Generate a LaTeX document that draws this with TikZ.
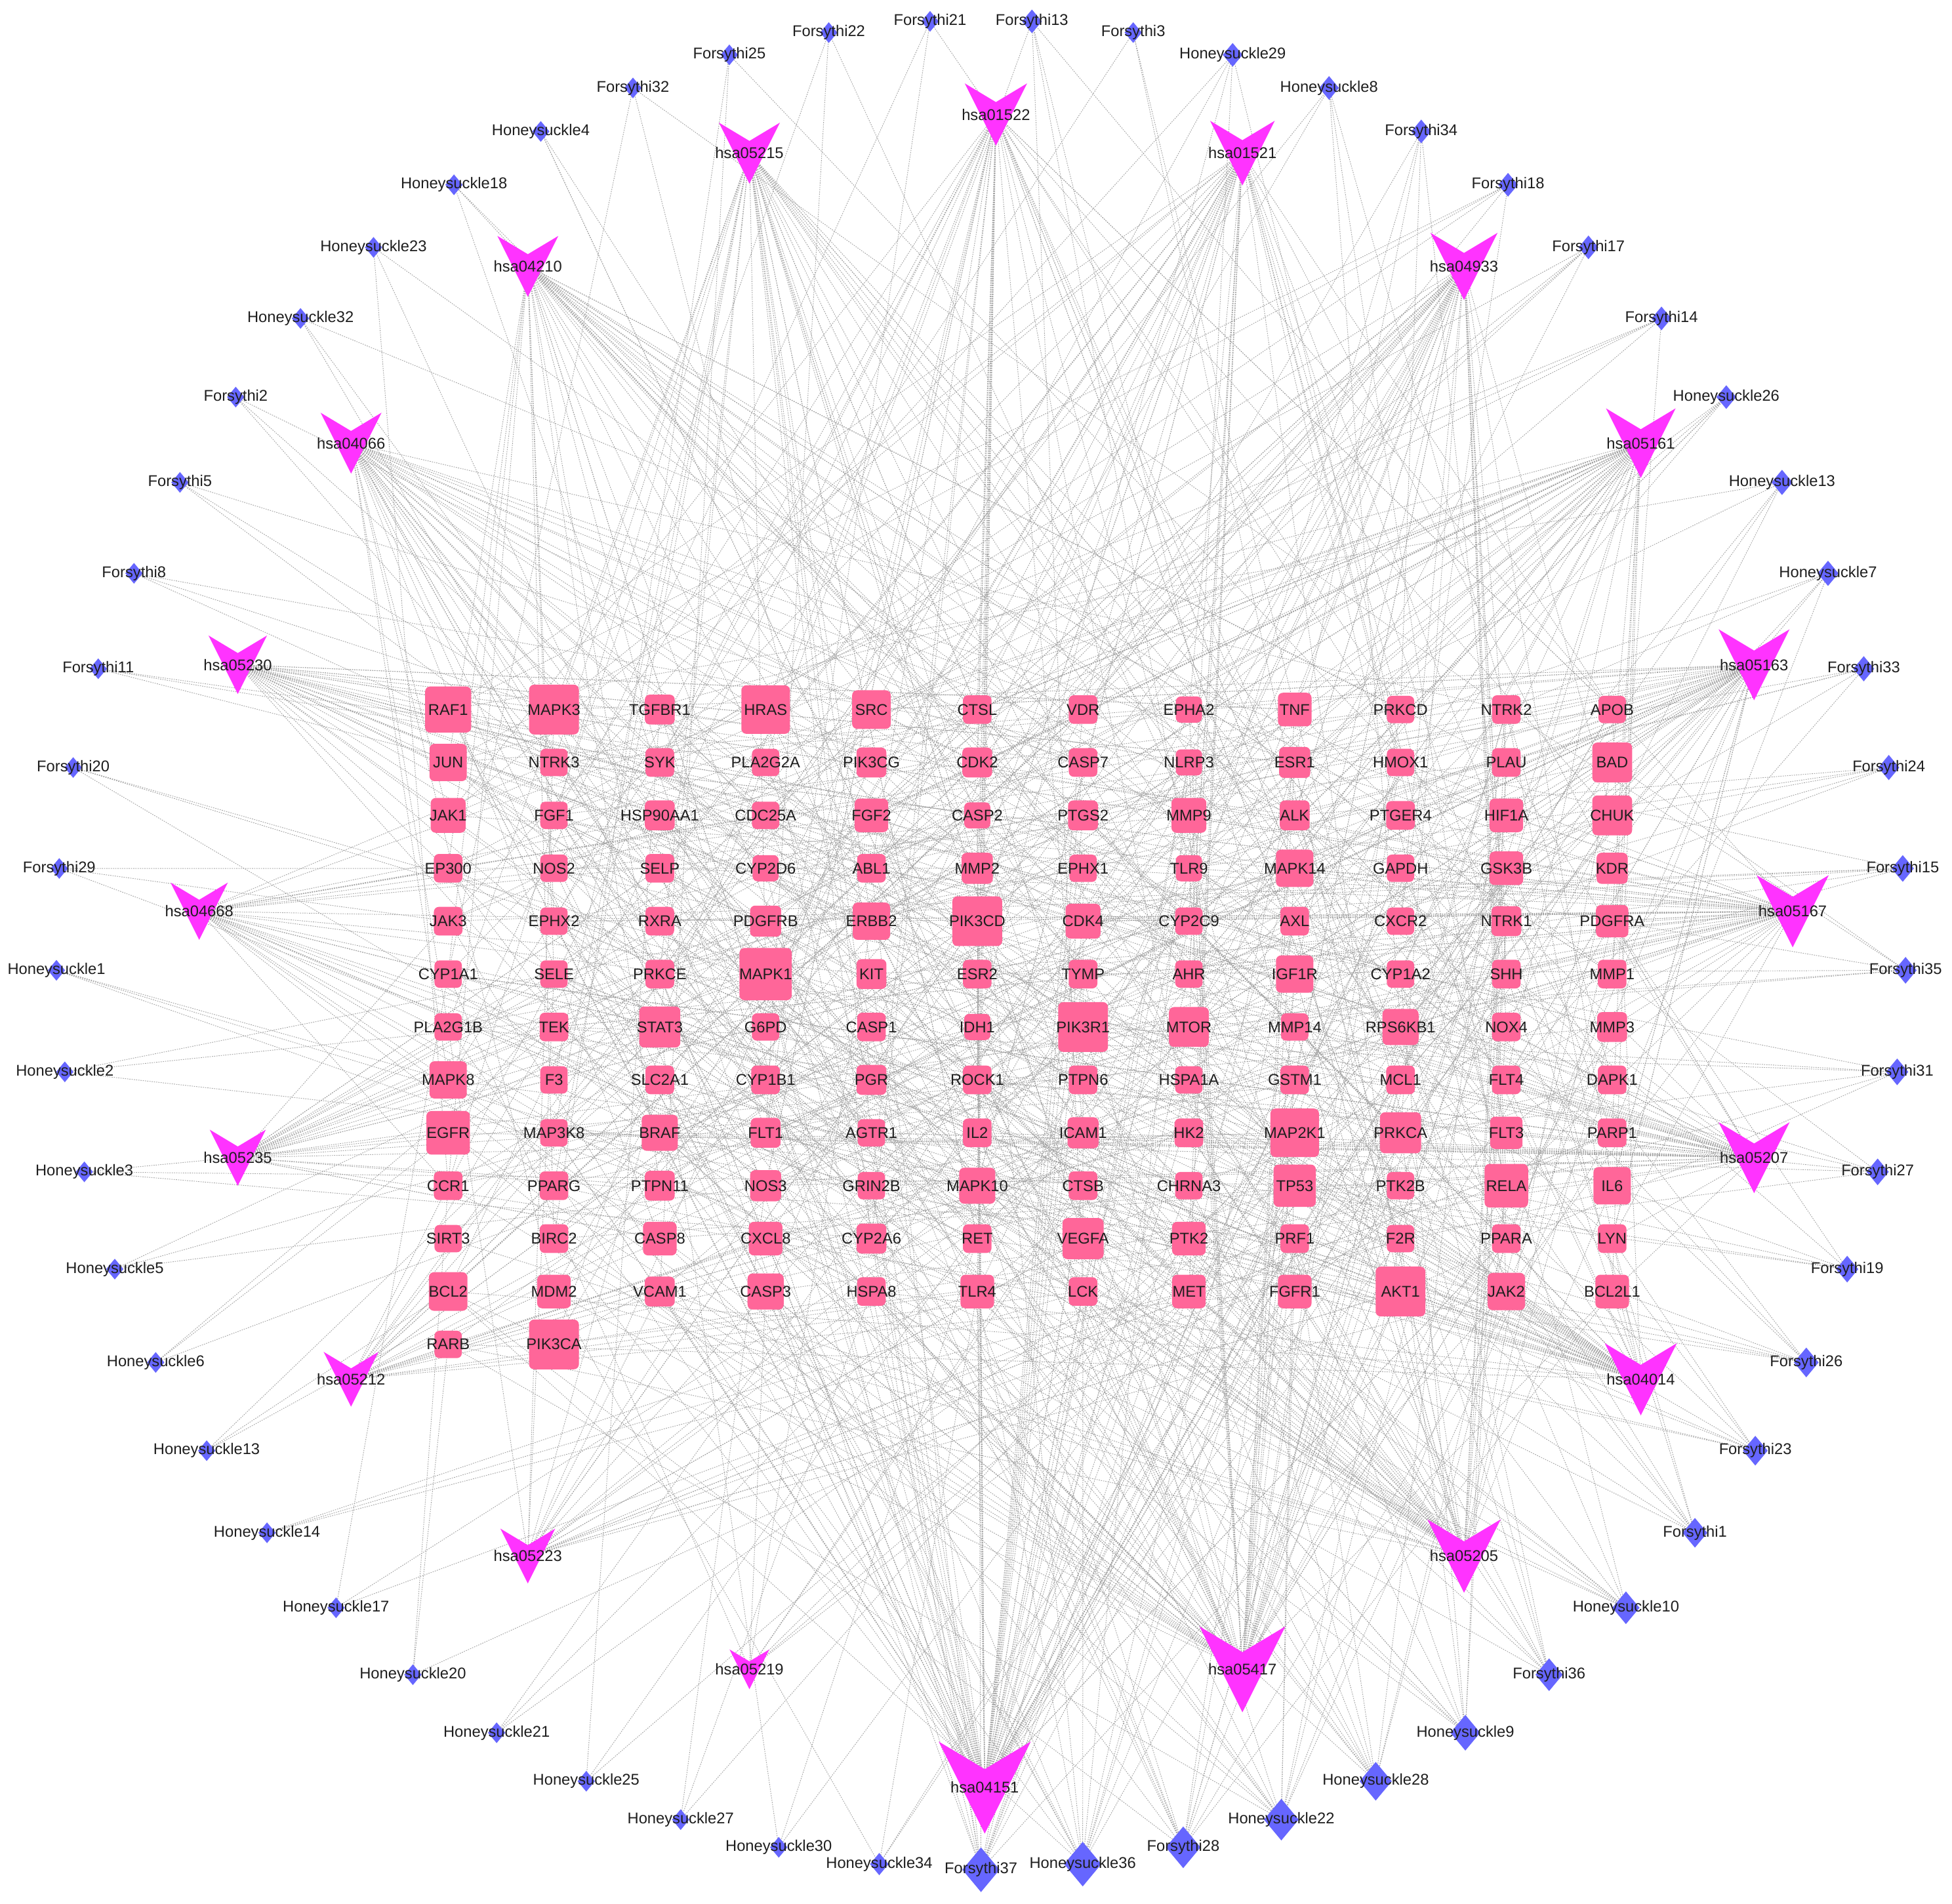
\documentclass[tikz,border=0pt]{standalone}
\usepackage{fontspec}
\setmainfont{Liberation Sans}
\usetikzlibrary{shapes.geometric}
\pgfdeclarelayer{paper}
\pgfdeclarelayer{edges}
\pgfsetlayers{paper,edges,main}
\definecolor{genecol}{RGB}{255,102,153}
\definecolor{pathcol}{RGB}{255,51,255}
\definecolor{compcol}{RGB}{102,102,255}
\definecolor{edgecol}{RGB}{165,165,165}
\definecolor{txtcol}{RGB}{30,30,30}
\tikzset{
  lbl/.style={inner sep=0pt, text=txtcol, font=\fontsize{12.5}{14}\selectfont},
  genebox/.style={rectangle, rounded corners=4pt, fill=genecol, inner sep=0pt},
  compbox/.style={diamond, fill=compcol, inner sep=0pt},
  edge/.style={draw=edgecol, line width=0.5pt, dash pattern=on 0.9pt off 0.9pt},
}
\def\genelist{%
{RAF1/37,MAPK3/40,TGFBR1/24,HRAS/39,SRC/31,CTSL/23,VDR/23,EPHA2/21,TNF/27,PRKCD/22,NTRK2/23,APOB/22},%
{JUN/30,NTRK3/22,SYK/23,PLA2G2A/22,PIK3CG/24,CDK2/24,CASP7/23,NLRP3/21,ESR1/25,HMOX1/22,PLAU/23,BAD/32},%
{JAK1/28,FGF1/22,HSP90AA1/24,CDC25A/22,FGF2/27,CASP2/21,PTGS2/24,MMP9/28,ALK/24,PTGER4/23,HIF1A/27,CHUK/32},%
{EP300/23,NOS2/22,SELP/23,CYP2D6/21,ABL1/23,MMP2/25,EPHX1/22,TLR9/21,MAPK14/30,GAPDH/22,GSK3B/27,KDR/25},%
{JAK3/23,EPHX2/22,RXRA/23,PDGFRB/25,ERBB2/30,PIK3CD/40,CDK4/28,CYP2C9/22,AXL/23,CXCR2/22,NTRK1/24,PDGFRA/26},%
{CYP1A1/22,SELE/22,PRKCE/23,MAPK1/42,KIT/24,ESR2/23,TYMP/23,AHR/22,IGF1R/30,CYP1A2/22,SHH/23,MMP1/23},%
{PLA2G1B/22,TEK/23,STAT3/33,G6PD/22,CASP1/23,IDH1/21,PIK3R1/40,MTOR/32,MMP14/22,RPS6KB1/29,NOX4/23,MMP3/24},%
{MAPK8/30,F3/22,SLC2A1/23,CYP1B1/23,PGR/24,ROCK1/23,PTPN6/23,HSPA1A/22,GSTM1/23,MCL1/23,FLT4/23,DAPK1/23},%
{EGFR/35,MAP3K8/22,BRAF/29,FLT1/24,AGTR1/22,IL2/23,ICAM1/25,HK2/23,MAP2K1/39,PRKCA/33,FLT3/26,PARP1/23},%
{CCR1/23,PPARG/23,PTPN11/24,NOS3/25,GRIN2B/22,MAPK10/29,CTSB/23,CHRNA3/22,TP53/34,PTK2B/22,RELA/35,IL6/30},%
{SIRT3/22,BIRC2/23,CASP8/27,CXCL8/27,CYP2A6/24,RET/23,VEGFA/33,PTK2/27,PRF1/23,F2R/22,PPARA/23,LYN/23},%
{BCL2/31,MDM2/27,VCAM1/24,CASP3/29,HSPA8/23,TLR4/27,LCK/23,MET/27,FGFR1/27,AKT1/40,JAK2/30,BCL2L1/27},%
{RARB/22,PIK3CA/40}}
\def\pathlist{%
hsa01522/800/92/50/36, hsa01521/998/123/52/38, hsa04933/1176/214/54/40,
hsa05161/1318/356/56/44, hsa05163/1409/534/57/46, hsa05167/1440/732/58/48,
hsa05207/1409/930/57/46, hsa04014/1318/1108/58/48, hsa05205/1176/1250/59/50,
hsa05417/998/1341/69/62, hsa04151/791/1436/74/72, hsa05219/602/1341/32/8,
hsa05223/424/1250/44/22, hsa05212/282/1108/44/24, hsa05235/191/930/45/26,
hsa04668/160/732/46/28, hsa05230/191/534/47/30, hsa04066/282/356/49/34,
hsa04210/424/214/49/34, hsa05215/602/123/49/34}
\def\complist{%
Forsythi13/16, Forsythi3/14, Honeysuckle29/16, Honeysuckle8/16, Forsythi34/16,
Forsythi18/16, Forsythi17/16, Forsythi14/16, Honeysuckle26/16, Honeysuckle13/17,
Honeysuckle7/17, Forsythi33/17, Forsythi24/17, Forsythi15/18, Forsythi35/18,
Forsythi31/18, Forsythi27/18, Forsythi19/18, Forsythi26/20, Forsythi23/20,
Forsythi1/20, Honeysuckle10/22, Forsythi36/22, Honeysuckle9/24, Honeysuckle28/26,
Honeysuckle22/28, Forsythi28/28, Honeysuckle36/30, Forsythi37/30, Honeysuckle34/15,
Honeysuckle30/14, Honeysuckle27/14, Honeysuckle25/14, Honeysuckle21/14, Honeysuckle20/14,
Honeysuckle17/14, Honeysuckle14/14, Honeysuckle13/14, Honeysuckle6/14, Honeysuckle5/14,
Honeysuckle3/14, Honeysuckle2/14, Honeysuckle1/14, Forsythi29/14, Forsythi20/14,
Forsythi11/14, Forsythi8/14, Forsythi5/14, Forsythi2/14, Honeysuckle32/14,
Honeysuckle23/14, Honeysuckle18/14, Honeysuckle4/14, Forsythi32/14, Forsythi25/14,
Forsythi22/14, Forsythi21/14}
\begin{document}
\begin{tikzpicture}[x=1pt,y=-1pt]
\begin{pgfonlayer}{paper}
\fill[white] (0,0) rectangle (1568,1529.5);
\end{pgfonlayer}
\useasboundingbox (0,0) rectangle (1568,1529.5);
% genes
\foreach \row [count=\rowi] in \genelist {
  \foreach \nm/\s [count=\coli] in \row {
    \pgfmathtruncatemacro\gi{(\rowi-1)*12+\coli}
    \node[genebox, minimum size=\s pt] (g\gi) at ({360+85*(\coli-1)},{570+42.5*(\rowi-1)}) {};
    \node[lbl] (gt\gi) at (g\gi.center) {\nm};
  }
}
% pathways
\foreach \nm/\px/\py/\s/\dg [count=\i] in \pathlist {
  \fill[pathcol] ({\px-\s/2},{\py-\s/2}) -- (\px,{\py-0.2*\s}) -- ({\px+\s/2},{\py-\s/2}) -- (\px,{\py+\s/2}) -- cycle;
  \node[lbl] (p\i) at (\px,\py) {\nm};
}
% compounds
\foreach \nm/\w [count=\k from 0] in \complist {
  \pgfmathsetmacro\ang{3.158+6.3158*\k}
  \pgfmathsetmacro\hh{1.2*\w}
  \node[compbox, minimum width=\w pt, minimum height=\hh pt] (c\k) at ({788+743*sin(\ang)},{759-743*cos(\ang)}) {};
  \node[lbl] (ct\k) at (c\k.center) {\nm};
}
% edges
\begin{pgfonlayer}{edges}
\pgfmathsetseed{2024}
\foreach \nm/\px/\py/\s/\dg [count=\i] in \pathlist {
  \foreach \m in {1,...,\dg} {
    \pgfmathtruncatemacro\gj{random(1,146)}
    \draw[edge] (p\i.center) -- (g\gj.center);
  }
}
\foreach \nm/\w [count=\k from 0] in \complist {
  \pgfmathtruncatemacro\dgc{max(2,round(0.75*(\w-10)))}
  \foreach \m in {1,...,\dgc} {
    \pgfmathtruncatemacro\gj{random(1,146)}
    \draw[edge] (c\k.center) -- (g\gj.center);
  }
}
\end{pgfonlayer}
\end{tikzpicture}
\end{document}
